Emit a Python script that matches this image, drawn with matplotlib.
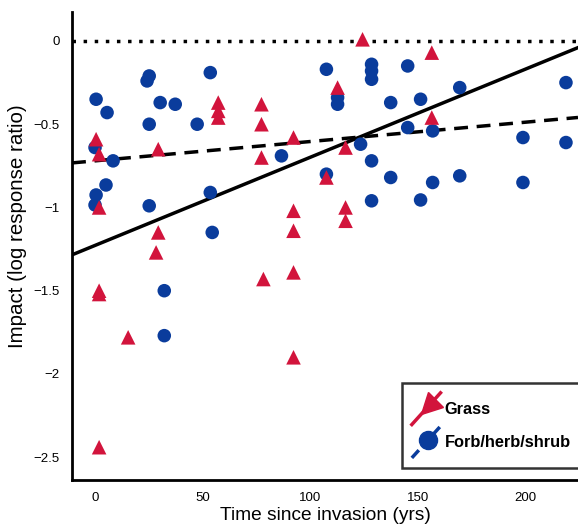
import numpy as np
import matplotlib
matplotlib.use("Agg")
from matplotlib import pyplot as plt
from matplotlib.lines import Line2D
from matplotlib.markers import MarkerStyle
from matplotlib.transforms import Affine2D
from matplotlib.legend_handler import HandlerBase

plt.rcParams['font.family'] = ['Liberation Sans', 'DejaVu Sans']

# Grass (triangles)
grass_x = [0.5, 1.9, 1.9, 29.4, 29.4, 28.4, 57.3, 57.3, 57.3, 77.4,
           77.4, 77.4, 92.3, 92.3, 92.3, 92.3, 92.3, 78.3, 1.9, 1.9,
           15.4, 1.9, 124.4, 156.6, 112.8, 156.6, 116.5, 107.6, 116.5, 116.5]
grass_y = [-0.59, -0.68, -1.00, -0.65, -1.15, -1.27, -0.37, -0.42, -0.46, -0.38,
           -0.50, -0.70, -0.58, -1.02, -1.14, -1.39, -1.90, -1.43, -1.50, -1.52,
           -1.78, -2.44, 0.01, -0.07, -0.28, -0.46, -0.64, -0.82, -1.00, -1.08]

# Forb/herb/shrub (circles)
forb_x = [0.5, 5.6, 0.0, 8.4, 5.1, 0.5, 0.0, 25.2, 24.2, 30.3,
          37.3, 25.2, 25.2, 53.6, 47.5, 53.6, 54.5, 86.7, 32.2, 32.2,
          107.6, 128.6, 128.6, 128.6, 145.4, 112.8, 112.8, 137.5, 151.4, 169.6,
          219.0, 145.4, 157.0, 123.5, 128.6, 199.0, 219.0, 107.6, 137.5, 157.0,
          169.6, 199.0, 128.6, 151.4]
forb_y = [-0.35, -0.43, -0.64, -0.72, -0.865, -0.925, -0.985, -0.21, -0.24, -0.37,
          -0.38, -0.50, -0.99, -0.19, -0.50, -0.91, -1.15, -0.69, -1.50, -1.77,
          -0.17, -0.14, -0.18, -0.23, -0.15, -0.34, -0.38, -0.37, -0.35, -0.28,
          -0.25, -0.52, -0.54, -0.62, -0.72, -0.58, -0.61, -0.80, -0.82, -0.85,
          -0.81, -0.85, -0.96, -0.955]

# fitted lines (intercept, slope)
grass_fit = (-1.228, 0.00529)
forb_fit = (-0.72, 0.00116)

red = '#D2143C'
blue = '#0A3C9C'

xlim = (-10.7, 224.6)
ylim = (-2.637, 0.174)


class DiagHandler(HandlerBase):
    # diagonal line with a marker in the middle
    def __init__(self, color, ls, marker, rot, msize):
        super().__init__()
        self.color, self.ls, self.marker, self.rot, self.msize = color, ls, marker, rot, msize

    def create_artists(self, legend, orig_handle, xdescent, ydescent,
                       width, height, fontsize, trans):
        x0, y0 = -xdescent, -ydescent
        x1, y1 = -xdescent + width, -ydescent + height
        line = Line2D([x0, x1], [y0, y1], color=self.color, ls=self.ls,
                      lw=2.5, transform=trans)
        m = MarkerStyle(self.marker, transform=Affine2D().rotate_deg(self.rot))
        mk = Line2D([(x0 + x1) / 2 + width * 0.05], [(y0 + y1) / 2 + height * 0.05],
                    marker=m, ls='none', color=self.color,
                    markersize=self.msize, transform=trans)
        return [line, mk]


fig = plt.figure(figsize=(5.78, 5.27), dpi=100)
ax = fig.add_axes([0.1246, 0.0892, 0.8754, 0.8880])

xs = np.array(xlim)
ax.axhline(0, color='black', ls=(0, (1, 2.2)), lw=2.5, zorder=1)
ax.plot(xs, grass_fit[0] + grass_fit[1] * xs, color='black', lw=2.5, zorder=2)
ax.plot(xs, forb_fit[0] + forb_fit[1] * xs, color='black', lw=2.5,
        ls=(0, (4, 2.5)), zorder=2)

ax.scatter(forb_x, forb_y, s=95, marker='o', color=blue, edgecolors='none', zorder=3)
ax.scatter(grass_x, grass_y, s=110, marker='^', color=red, edgecolors='none', zorder=4)

ax.set_xlim(xlim)
ax.set_ylim(ylim)
ax.set_xticks([0, 50, 100, 150, 200])
ax.set_yticks([0, -0.5, -1, -1.5, -2, -2.5])
ax.set_yticklabels(['0', '\u22120.5', '\u22121', '\u22121.5', '\u22122', '\u22122.5'])
ax.tick_params(length=0, labelsize=9.5, pad=9)
for s in ['top', 'right']:
    ax.spines[s].set_visible(False)
for s in ['left', 'bottom']:
    ax.spines[s].set_linewidth(2)
ax.set_xlabel('Time since invasion (yrs)', fontsize=13.8, labelpad=2)
ax.set_ylabel('Impact (log response ratio)', fontsize=14.8)
ax.yaxis.set_label_coords(-0.088, 0.543)

h1 = Line2D([], [])
h2 = Line2D([], [])
leg = fig.legend([h1, h2], ['Grass', 'Forb/herb/shrub'],
                 handler_map={h1: DiagHandler(red, '-', '^', 135, 15),
                              h2: DiagHandler(blue, (0, (3, 1.5)), 'o', 0, 13)},
                 loc='upper left', bbox_to_anchor=(402 / 578, 1 - 383 / 527),
                 frameon=True, fancybox=False,
                 prop={'weight': 'bold', 'size': 11.8},
                 handlelength=1.75, handleheight=2.6, handletextpad=0.25,
                 labelspacing=0.1, borderpad=0.6, borderaxespad=0)
leg.get_frame().set_edgecolor('black')
leg.get_frame().set_linewidth(1.8)

fig.savefig('out.png', dpi=100)
